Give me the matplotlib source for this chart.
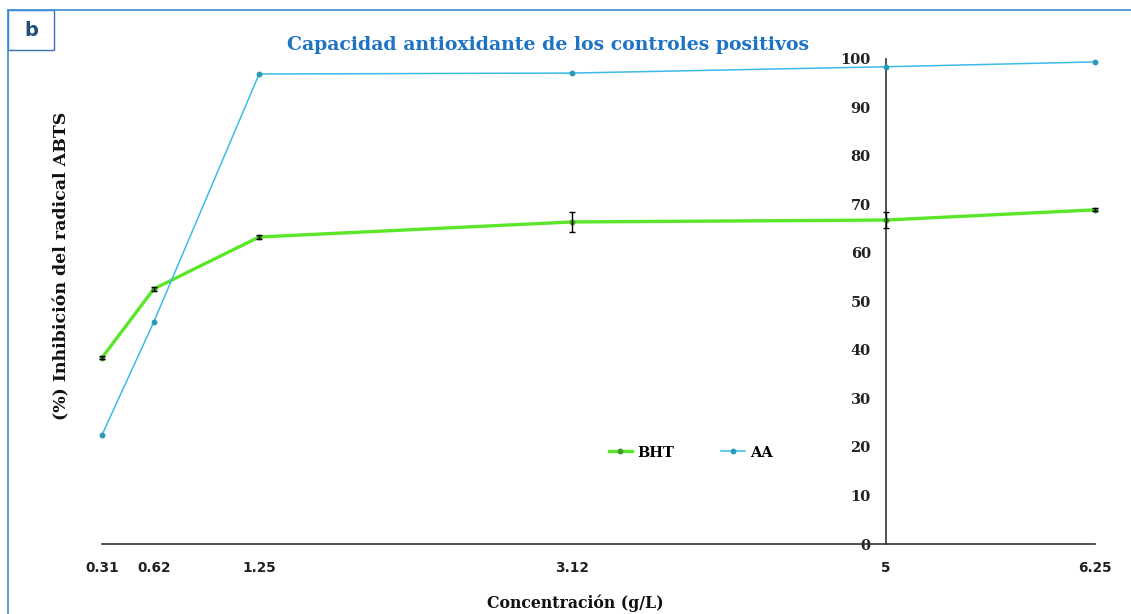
import matplotlib
matplotlib.use("Agg")
import matplotlib.pyplot as plt
from matplotlib.patches import Rectangle

# data
concentration = [0.31, 0.62, 1.25, 3.12, 5.0, 6.25]
tick_labels = ["0.31", "0.62", "1.25", "3.12", "5", "6.25"]
bht = [38.4, 52.6, 63.3, 66.4, 66.8, 68.9]
bht_err = [0.3, 0.4, 0.4, 2.0, 1.6, 0.3]
aa = [22.5, 45.8, 96.9, 97.1, 98.4, 99.4]

W, H = 1131, 614
fig = plt.figure(figsize=(W / 100, H / 100), dpi=100)

# axes placed in pixel terms: x from 102 to 1095, y from 59 to 544
ax = fig.add_axes([102 / W, 1 - 544 / H, (1095 - 102) / W, (544 - 59) / H])

ax.plot(concentration, bht, color="#5ce62a", lw=2.4, marker="o", ms=3.2,
        mfc="#3f9a2a", mec="#3f9a2a", label="BHT", clip_on=False, zorder=3)
ax.errorbar(concentration, bht, yerr=bht_err, fmt="none", ecolor="black",
            elinewidth=1, capsize=2, capthick=1, zorder=4, clip_on=False)
ax.plot(concentration, aa, color="#3bbbe8", lw=1.1, marker="o", ms=3.2,
        mfc="#2a9ab8", mec="#2a9ab8", label="AA", clip_on=False, zorder=3)

ax.set_xlim(0.31, 6.25)
ax.set_ylim(0, 100)
ax.spines["top"].set_visible(False)
ax.spines["right"].set_visible(False)
ax.spines["left"].set_position(("data", 5))
ax.spines["left"].set_color("#333333")
ax.spines["bottom"].set_color("#333333")
ax.spines["left"].set_linewidth(1.2)
ax.spines["bottom"].set_linewidth(1.2)

ax.set_xticks(concentration)
ax.set_xticklabels(tick_labels, fontfamily="DejaVu Sans", fontweight="bold",
                   fontsize=9.8, color="#222222")
ax.set_yticks(range(0, 101, 10))
ax.set_yticklabels([str(v) for v in range(0, 101, 10)], fontfamily="DejaVu Serif",
                   fontweight="bold", fontsize=10.5, color="#222222")
ax.tick_params(axis="x", length=0, pad=12)
ax.tick_params(axis="y", length=0, pad=11)
ax.patch.set_alpha(0)

ax.legend(loc="upper left", bbox_to_anchor=(0.497, 0.23), ncol=2, frameon=False,
          handlelength=1.6, columnspacing=3.2, handletextpad=0.4,
          prop={"family": "DejaVu Serif", "weight": "bold", "size": 10.5})

fig.text(548 / W, 1 - 45 / H, "Capacidad antioxidante de los controles positivos",
         ha="center", va="center", color="#1f73c6", fontfamily="DejaVu Serif",
         fontweight="bold", fontsize=13.6)
fig.text(62 / W, 1 - 266 / H, "(%) Inhibición del radical ABTS", rotation=90,
         ha="center", va="center", color="#111111", fontfamily="DejaVu Serif",
         fontweight="bold", fontsize=12.5)
fig.text(575 / W, 1 - 603 / H, "Concentración (g/L)", ha="center", va="center",
         color="#111111", fontfamily="DejaVu Serif", fontweight="bold", fontsize=11.3)

# blue frame and panel letter box
fig.add_artist(plt.Line2D([8 / W, 8 / W], [0, 1 - 10 / H], transform=fig.transFigure,
                          color="#3a8fd8", lw=1.2))
fig.add_artist(plt.Line2D([8 / W, 1], [1 - 10 / H, 1 - 10 / H], transform=fig.transFigure,
                          color="#3a8fd8", lw=1.2))
fig.add_artist(Rectangle((8 / W, 1 - 50 / H), 46 / W, 40 / H, transform=fig.transFigure,
                         fill=False, edgecolor="#3a6fb0", lw=1))
fig.text(31 / W, 1 - 31 / H, "b", ha="center", va="center", color="#1f4e79",
         fontfamily="DejaVu Sans", fontweight="bold", fontsize=14)

fig.savefig("out.png", dpi=100)
